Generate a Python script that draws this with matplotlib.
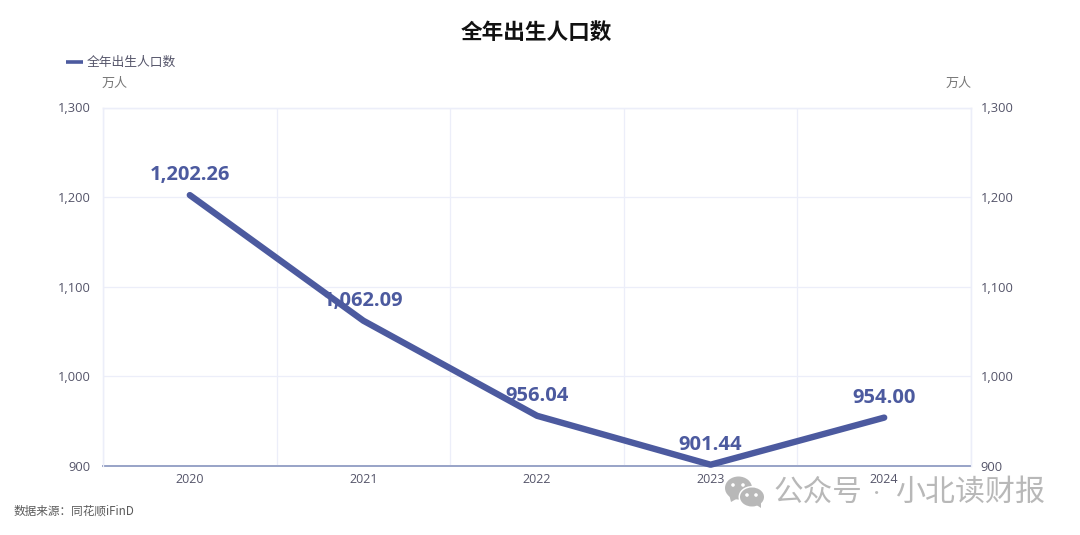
import matplotlib
matplotlib.use('Agg')
import matplotlib.pyplot as plt
from matplotlib.patches import Ellipse, Polygon

years = ['2020', '2021', '2022', '2023', '2024']
births = [1202.26, 1062.09, 956.04, 901.44, 954.00]
y_ticks = [900, 1000, 1100, 1200, 1300]

LINE = '#4c5a9f'
TEXT = '#55556a'
GRID = '#eceef9'

plt.rcParams['font.family'] = ['Noto Sans CJK SC', 'DejaVu Sans']

W, H = 1080, 535
fig = plt.figure(figsize=(W / 100, H / 100), dpi=100)


def fx(px):
    return px / W


def fy(py):
    return 1 - py / H


ax = fig.add_axes([fx(103), fy(466), fx(971 - 103), (466 - 107.5) / H])
ax.set_xlim(0, 5)
ax.set_ylim(900, 1300)

# categories sit in the middle of each band
xs = [i + 0.5 for i in range(len(years))]
ax.plot(xs, births, color=LINE, lw=4.6, solid_capstyle='round',
        solid_joinstyle='round', clip_on=False, zorder=3)

for x, v in zip(xs, births):
    ax.annotate('{:,.2f}'.format(v), (x, v), xytext=(0, 7), textcoords='offset points',
                ha='center', va='bottom', color=LINE, fontsize=14.5,
                fontweight='bold', family=['Open Sans', 'DejaVu Sans'], zorder=4)

ax.set_xticks(range(6))
ax.set_xticklabels([])
ax.set_xticks(xs, minor=True)
ax.set_xticklabels(years, minor=True, fontsize=9, color=TEXT,
                   family=['Open Sans', 'DejaVu Sans'])
ax.tick_params(axis='x', which='both', length=0)
ax.tick_params(axis='x', which='minor', pad=5)

tick_text = ['{:,}'.format(t) for t in y_ticks]
ax.set_yticks(y_ticks)
ax.set_yticklabels(tick_text, fontsize=9.3, color=TEXT,
                   family=['Open Sans', 'DejaVu Sans'])
ax.tick_params(axis='y', length=0, pad=9)
ax.grid(True, which='major', color=GRID, lw=0.9)
ax.set_axisbelow(True)

# right hand axis sits a little closer to the plot, keep it under the line
ax2 = ax.twinx()
ax2.set_ylim(900, 1300)
ax2.set_yticks(y_ticks)
ax2.set_yticklabels(tick_text, fontsize=9.3, color=TEXT,
                    family=['Open Sans', 'DejaVu Sans'])
ax2.tick_params(axis='y', length=0, pad=7)
ax2.set_zorder(0)
ax.set_zorder(1)
ax.patch.set_visible(False)

for a in [ax, ax2]:
    for s in ['top', 'left', 'right']:
        a.spines[s].set_color(GRID)
        a.spines[s].set_linewidth(0.9)
    a.spines['bottom'].set_color('#9aa5c8')
    a.spines['bottom'].set_linewidth(1.4)
    a.spines['bottom'].set_zorder(1)

fig.text(fx(536), fy(32), '全年出生人口数', ha='center', va='center',
         fontsize=15.6, fontweight='bold', color='#111111')

fig.add_artist(plt.Line2D([fx(66), fx(83)], [fy(62), fy(62)], color=LINE, lw=2.6,
                          solid_capstyle='butt'))
fig.text(fx(87), fy(62), '全年出生人口数', ha='left', va='center', fontsize=9.2, color=TEXT)
fig.text(fx(115), fy(83), '万人', ha='center', va='center', fontsize=9.4, color='#777777')
fig.text(fx(959), fy(83), '万人', ha='center', va='center', fontsize=9.4, color='#777777')
fig.text(fx(14), fy(511), '数据来源\uff1a同花顺iFinD', ha='left', va='center',
         fontsize=8.4, color='#5a5a5a')

# watermark
bg = fig.add_axes([0, 0, 1, 1], zorder=5)
bg.set_xlim(0, W)
bg.set_ylim(H, 0)
bg.axis('off')
GREY = '#b8b8b8'
bg.add_patch(Ellipse((738.5, 488), 27, 23, color=GREY, lw=0))
bg.add_patch(Polygon([[729, 494], [731, 502], [738, 498]], color=GREY, lw=0))
bg.add_patch(Ellipse((752, 497), 27, 22, color='white', lw=0))
bg.add_patch(Ellipse((752, 497), 24, 19, color=GREY, lw=0))
bg.add_patch(Polygon([[755, 504], [761, 508], [761, 501]], color=GREY, lw=0))
for ex, ey in [(733, 485), (743, 485), (747, 495), (756, 495)]:
    bg.add_patch(Ellipse((ex, ey), 3.6, 3.6, color='white', lw=0))
bg.text(773, 492, '公众号', ha='left', va='center', fontsize=21.3, color=GREY)
bg.text(877, 494, '·', ha='center', va='center', fontsize=11, color=GREY)
bg.text(895, 492, '小北读财报', ha='left', va='center', fontsize=21.6, color=GREY)

fig.savefig('out.png', dpi=100)
